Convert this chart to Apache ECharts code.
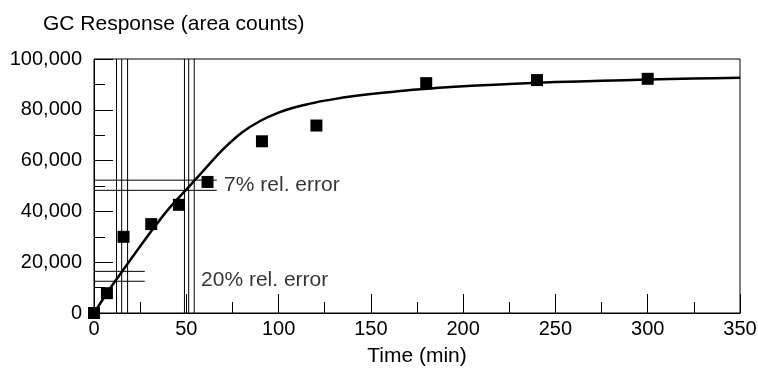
<!DOCTYPE html>
<html>
<head>
<meta charset="utf-8">
<script src="https://cdn.jsdelivr.net/npm/echarts@6/dist/echarts.min.js"></script>
<style>
  html, body { margin: 0; padding: 0; background: #fff; }
  #chart { width: 758px; height: 372px; }
</style>
</head>
<body>
<div id="chart"></div>
<script>
// measured samples
const sampleTimes = [0, 7, 16, 31, 46, 61.5, 91, 120.5, 180, 240, 300];
const sampleResponse = [0, 7800, 30000, 35000, 42600, 51600, 67600, 73800, 90500, 91700, 92200];

// fitted curve
const fitTimes = [0, 10, 20, 30, 40, 50, 60, 70, 80, 90, 100, 110, 120, 130, 140, 150, 175, 200, 225, 250, 275, 300, 325, 350];
const fitResponse = [0, 11000, 21200, 31200, 40600, 48600, 56600, 64500, 71000, 75600, 78900, 81200, 82900, 84200, 85300, 86200, 88000, 89300, 90200, 90900, 91400, 91900, 92300, 92600];

// error bracket lines
const verticalLines = [12.2, 15, 18.2, 49, 51.3, 54.3];
const lines7pct = [48300, 52300];
const lines7pctEnd = 66.5;
const lines20pct = [12500, 16400];
const lines20pctEnd = 27.5;

const noteTexts = ['7% rel. error', '20% rel. error'];
const noteTimes = [70.5, 58];
const noteValues = [50500, 13100];

const chart = echarts.init(document.getElementById('chart'));
const font = 'Liberation Sans';

const refSeries = [];
verticalLines.forEach((t) => {
  refSeries.push({ type: 'line', data: [[t, 0], [t, 100000]], symbol: 'none', silent: true,
    lineStyle: { color: '#000', width: 1 }, z: 1 });
});
lines7pct.forEach((v) => {
  refSeries.push({ type: 'line', data: [[0, v], [lines7pctEnd, v]], symbol: 'none', silent: true,
    lineStyle: { color: '#000', width: 1 }, z: 1 });
});
lines20pct.forEach((v) => {
  refSeries.push({ type: 'line', data: [[0, v], [lines20pctEnd, v]], symbol: 'none', silent: true,
    lineStyle: { color: '#000', width: 1 }, z: 1 });
});

var option = {
  animation: false,
  backgroundColor: '#fff',
  textStyle: { fontFamily: font, color: '#000' },
  title: {
    text: 'GC Response (area counts)',
    left: 38, top: 9,
    textStyle: { fontFamily: font, fontSize: 21, fontWeight: 'normal', color: '#000' }
  },
  grid: { left: 94, right: 18, top: 59, bottom: 59, outerBoundsMode: 'none', containLabel: false,
    show: true, borderColor: '#000', borderWidth: 1 },
  xAxis: {
    type: 'value', min: 0, max: 350, interval: 50,
    name: 'Time (min)', nameLocation: 'middle', nameGap: 33,
    nameTextStyle: { fontFamily: font, fontSize: 21, color: '#000' },
    axisLine: { lineStyle: { color: '#000', width: 1 } },
    axisTick: { inside: true, length: 19, lineStyle: { color: '#000' } },
    minorTick: { show: true, splitNumber: 2, length: 11, lineStyle: { color: '#000' } },
    splitLine: { show: false },
    axisLabel: { fontFamily: font, fontSize: 20, color: '#000', margin: 6 }
  },
  yAxis: {
    type: 'value', min: 0, max: 100000, interval: 20000,
    axisLine: { show: true, lineStyle: { color: '#000', width: 1 } },
    axisTick: { show: true, inside: true, length: 19, lineStyle: { color: '#000' } },
    minorTick: { show: true, splitNumber: 2, length: 11, lineStyle: { color: '#000' } },
    splitLine: { show: false },
    axisLabel: { fontFamily: font, fontSize: 20, color: '#000', margin: 12,
      formatter: (v) => v.toLocaleString('en-US') }
  },
  series: refSeries.concat([
    {
      type: 'line', name: 'fit', smooth: 0.3, symbol: 'none',
      data: fitTimes.map((t, i) => [t, fitResponse[i]]),
      lineStyle: { color: '#000', width: 2.5 }, z: 3
    },
    {
      type: 'scatter', name: 'samples', symbol: 'rect', symbolSize: 12,
      data: sampleTimes.map((t, i) => [t, sampleResponse[i]]),
      itemStyle: { color: '#000', opacity: 1 }, z: 4
    },
    {
      type: 'scatter', name: 'notes', symbolSize: 0, silent: true,
      data: noteTimes.map((t, i) => ({ value: [t, noteValues[i]], note: noteTexts[i] })),
      label: { show: true, position: 'right', distance: 0, fontFamily: font, fontSize: 21, color: '#000',
        formatter: (p) => p.data.note },
      z: 5
    }
  ])
};
chart.setOption(option);
</script>
</body>
</html>
